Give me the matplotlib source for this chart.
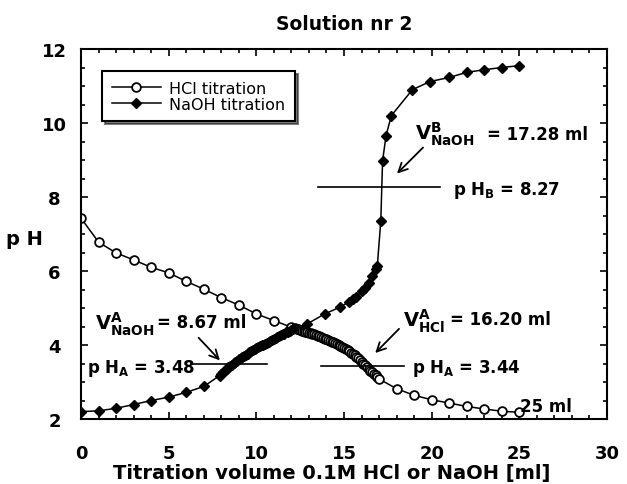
import matplotlib
matplotlib.use("Agg")
import matplotlib.pyplot as plt
from matplotlib.ticker import MultipleLocator

plt.rcParams['font.family'] = ['DejaVu Sans']
plt.rcParams['mathtext.default'] = 'bf'

# HCl titration (open circles)
hcl_v = [0, 1, 2, 3, 4, 5, 6, 7, 8, 9, 10, 11, 12,
         12.2, 12.3, 12.4, 12.5, 12.6, 12.7, 12.8, 12.9, 13.0, 13.1, 13.2, 13.3,
         13.4, 13.5, 13.6, 13.7, 13.8, 13.9, 14.0, 14.1, 14.2, 14.3, 14.4, 14.5,
         14.6, 14.7, 14.8, 14.9, 15.0, 15.1, 15.2, 15.3, 15.4, 15.5, 15.6, 15.7,
         15.8, 15.9, 16.0, 16.1, 16.2, 16.3, 16.4, 16.5, 16.6, 16.7, 16.8, 16.9, 17.0,
         18, 19, 20, 21, 22, 23, 24, 25]
hcl_ph = [7.43, 6.78, 6.49, 6.30, 6.10, 5.95, 5.72, 5.51, 5.28, 5.08, 4.84, 4.66, 4.48,
          4.45, 4.44, 4.42, 4.41, 4.39, 4.38, 4.36, 4.35, 4.33, 4.32, 4.30, 4.29,
          4.27, 4.25, 4.23, 4.21, 4.19, 4.17, 4.15, 4.13, 4.11, 4.09, 4.07, 4.05,
          4.02, 4.00, 3.97, 3.95, 3.92, 3.89, 3.86, 3.83, 3.79, 3.76, 3.72, 3.68,
          3.64, 3.60, 3.55, 3.50, 3.45, 3.40, 3.36, 3.31, 3.27, 3.22, 3.18, 3.13, 3.08,
          2.82, 2.64, 2.52, 2.43, 2.34, 2.27, 2.21, 2.18]

# NaOH titration (filled diamonds)
naoh_v = [0, 1, 2, 3, 4, 5, 6, 7,
          7.9, 8.0, 8.1, 8.2, 8.3, 8.4, 8.5, 8.6, 8.7, 8.8, 8.9, 9.0, 9.1, 9.2,
          9.3, 9.4, 9.5, 9.6, 9.7, 9.8, 9.9, 10.0, 10.1, 10.2, 10.3, 10.4, 10.5,
          10.6, 10.7, 10.8, 10.9, 11.0, 11.1, 11.2, 11.3, 11.4, 11.5, 11.6, 11.7,
          11.8, 11.9, 12.0, 12.1,
          12.9, 13.9, 14.8, 15.3, 15.5, 15.7, 16.0, 16.2, 16.4, 16.6, 16.8, 16.9,
          17.1, 17.2, 17.4, 17.7, 18.9, 19.9, 21, 22, 23, 24, 25]
naoh_ph = [2.20, 2.22, 2.29, 2.39, 2.50, 2.59, 2.72, 2.88,
           3.17, 3.22, 3.27, 3.31, 3.36, 3.40, 3.44, 3.47, 3.51, 3.54, 3.58, 3.61,
           3.65, 3.68, 3.71, 3.74, 3.77, 3.80, 3.83, 3.86, 3.89, 3.91, 3.94, 3.96,
           3.99, 4.01, 4.04, 4.06, 4.09, 4.11, 4.14, 4.16, 4.19, 4.21, 4.24, 4.26,
           4.29, 4.31, 4.34, 4.36, 4.39, 4.41, 4.43,
           4.57, 4.84, 5.03, 5.17, 5.24, 5.30, 5.45, 5.55, 5.68, 5.87, 6.05, 6.14,
           7.36, 8.98, 9.66, 10.2, 10.9, 11.12, 11.23, 11.37, 11.44, 11.50, 11.55]

fig = plt.figure(figsize=(6.27, 4.85), dpi=100)
ax = fig.add_axes([81/627, 1-420/485, 526/627, 370/485])

ax.plot(hcl_v, hcl_ph, color='black', lw=1.1, marker='o', ms=6.3,
        mfc='white', mec='black', mew=1.3, label='HCl titration')
ax.plot(naoh_v, naoh_ph, color='black', lw=1.1, marker='D', ms=5.2,
        mfc='black', mec='black', label='NaOH titration')

ax.set_xlim(0, 30)
ax.set_ylim(2, 12)
ax.xaxis.set_major_locator(MultipleLocator(5))
ax.xaxis.set_minor_locator(MultipleLocator(1))
ax.yaxis.set_major_locator(MultipleLocator(2))
ax.yaxis.set_minor_locator(MultipleLocator(0.5))
ax.tick_params(which='both', direction='in', top=True, right=True, width=1.2)
ax.tick_params(which='major', length=5)
ax.tick_params(which='minor', length=3)
ax.tick_params(axis='x', which='major', pad=18, labelsize=13)
ax.tick_params(axis='y', which='major', pad=19, labelsize=13)
for lab in ax.get_xticklabels() + ax.get_yticklabels():
    lab.set_fontweight('bold')
for lab in ax.get_yticklabels():
    lab.set_horizontalalignment('center')
for sp in ax.spines.values():
    sp.set_linewidth(1.5)

fig.text(344/627, 1-25/485, 'Solution nr 2', ha='center', va='center',
         fontsize=13.5, fontweight='bold')
fig.text(332/627, 1-474/485, 'Titration volume 0.1M HCl or NaOH [ml]',
         ha='center', va='center', fontsize=14, fontweight='bold')
fig.text(24/627, 1-240/485, 'p H', ha='center', va='center',
         fontsize=14, fontweight='bold')

leg = ax.legend(loc='upper left', bbox_to_anchor=(0.04, 0.94), borderaxespad=0,
                frameon=True, fancybox=False, shadow={'color': 'black'},
                fontsize=11.5, handlelength=3.1, borderpad=0.6,
                labelspacing=0.05, handletextpad=0.5)
leg.get_frame().set_edgecolor('black')
leg.get_frame().set_linewidth(1.5)
leg.get_frame().set_alpha(1)

# reference lines
ax.plot([13.5, 20.5], [8.27, 8.27], color='black', lw=1.2)
ax.plot([6.3, 10.6], [3.48, 3.48], color='black', lw=1.2)
ax.plot([13.7, 18.4], [3.44, 3.44], color='black', lw=1.2)

arrow = dict(arrowstyle='->', color='black', lw=1.3, mutation_scale=16)
ax.annotate('', xy=(17.91, 8.58), xytext=(19.62, 9.39), arrowprops=arrow)
ax.annotate('', xy=(8.03, 3.53), xytext=(6.6, 4.25), arrowprops=arrow)
ax.annotate('', xy=(16.67, 3.73), xytext=(18.25, 4.49), arrowprops=arrow)

vt = dict(fontsize=14, va='baseline', ha='left')
nt = dict(fontsize=12, va='baseline', ha='left', fontweight='bold')
ax.text(19.05, 9.57, r'$V^{B}_{NaOH}$', **vt)
ax.text(23.16, 9.57, '= 17.28 ml', **nt)
ax.text(21.2, 8.08, r'$p\ H_{B}$ = 8.27', **nt)

ax.text(0.8, 4.43, r'$V^{A}_{NaOH}$', **vt)
ax.text(4.32, 4.48, '= 8.67 ml', **nt)
ax.text(0.34, 3.27, r'$p\ H_{A}$ = 3.48', **nt)

ax.text(18.37, 4.51, r'$V^{A}_{HCl}$', **vt)
ax.text(21.05, 4.57, '= 16.20 ml', **nt)
ax.text(18.88, 3.27, r'$p\ H_{A}$ = 3.44', **nt)

ax.text(25.04, 2.22, '25 ml', **nt)

fig.savefig('out.png', dpi=100)
